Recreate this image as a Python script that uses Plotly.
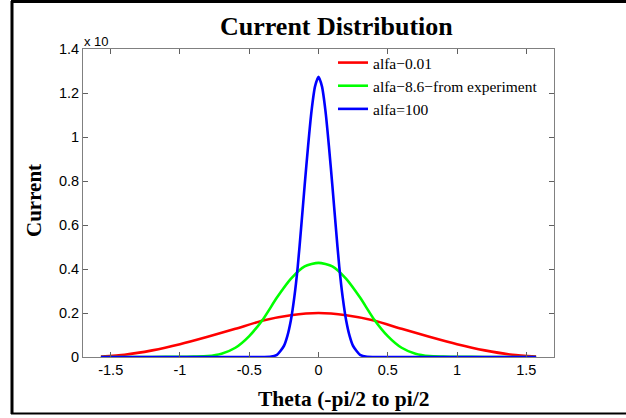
import plotly.graph_objects as go

# Angle samples (radians) and current readings for each alfa value
red_x = [-1.5708, -1.4, -1.2, -1.0, -0.8, -0.6, -0.4, -0.2, 0.0,
         0.2, 0.4, 0.6, 0.8, 1.0, 1.2, 1.4, 1.5708]
red_y = [0.002, 0.010, 0.030, 0.058, 0.092, 0.128, 0.166, 0.190, 0.200,
         0.190, 0.166, 0.128, 0.092, 0.058, 0.030, 0.010, 0.002]

green_x = [-1.5708, -1.2, -1.0, -0.9, -0.8, -0.7, -0.6, -0.5, -0.4, -0.3, -0.2, -0.1, 0.0,
           0.1, 0.2, 0.3, 0.4, 0.5, 0.6, 0.7, 0.8, 0.9, 1.0, 1.2, 1.5708]
green_y = [0.0, 0.0, 0.001, 0.002, 0.004, 0.015, 0.042, 0.095, 0.172, 0.270, 0.355, 0.412, 0.428,
           0.412, 0.355, 0.270, 0.172, 0.095, 0.042, 0.015, 0.004, 0.002, 0.001, 0.0, 0.0]

blue_x = [-1.5708, -0.5, -0.4, -0.35, -0.3, -0.25, -0.225, -0.2, -0.175, -0.15, -0.125, -0.1,
          -0.075, -0.05, -0.025, 0.0, 0.025, 0.05, 0.075, 0.1, 0.125, 0.15, 0.175, 0.2,
          0.225, 0.25, 0.3, 0.35, 0.4, 0.5, 1.5708]
blue_y = [0.0, 0.0, 0.0, 0.001, 0.010, 0.050, 0.095, 0.165, 0.270, 0.410, 0.590, 0.780,
          0.960, 1.120, 1.230, 1.274, 1.230, 1.120, 0.960, 0.780, 0.590, 0.410, 0.270, 0.165,
          0.095, 0.050, 0.010, 0.001, 0.0, 0.0, 0.0]

series_names = ["alfa\u22120.01", "alfa\u22128.6\u2212from experiment", "alfa=100"]
series_colors = ["#ff0000", "#00ff00", "#0000ff"]

x_ticks = [-1.5, -1, -0.5, 0, 0.5, 1, 1.5]
x_tick_text = ["-1.5", "-1", "-0.5", "0", "0.5", "1", "1.5"]
y_ticks = [0, 0.2, 0.4, 0.6, 0.8, 1.0, 1.2, 1.4]
y_tick_text = ["0", "0.2", "0.4", "0.6", "0.8", "1", "1.2", "1.4"]

W, H = 626, 418
L, R, T, B = 83, 72, 49, 61
SERIF = "Liberation Serif, Times New Roman, serif"
SANS = "Liberation Sans, Arial, sans-serif"


def px_x(px):
    return (px - L) / (W - L - R)


def px_y(py):
    return (H - B - py) / (H - T - B)


fig = go.Figure()
for xs, ys, name, color in zip([red_x, green_x, blue_x], [red_y, green_y, blue_y],
                               series_names, series_colors):
    fig.add_trace(go.Scatter(x=xs, y=ys, mode="lines", name=name,
                             line=dict(color=color, width=2.6, shape="spline", smoothing=0.6)))

axis_common = dict(showgrid=False, zeroline=False, showline=True, linecolor="#808080",
                   linewidth=1, mirror="ticks", ticks="inside", ticklen=5, tickcolor="#606060",
                   tickfont=dict(family=SANS, size=14.5, color="black"))

fig.update_xaxes(range=[-1.7, 1.7], tickvals=x_ticks, ticktext=x_tick_text, **axis_common)
fig.update_yaxes(range=[0, 1.4], tickvals=y_ticks, ticktext=y_tick_text, **axis_common)

fig.update_layout(
    width=W, height=H,
    margin=dict(l=L, r=R, t=T, b=B),
    paper_bgcolor="white", plot_bgcolor="white",
    showlegend=True,
    legend=dict(x=px_x(333), y=px_y(46), xanchor="left", yanchor="top",
                bgcolor="rgba(255,255,255,0)", borderwidth=0,
                font=dict(family=SERIF, size=15.5, color="black"),
                tracegroupgap=0, itemwidth=30),
    shapes=[
        # outer frame (left, top, bottom)
        dict(type="line", xref="paper", yref="paper", x0=px_x(12), x1=px_x(12),
             y0=px_y(1), y1=px_y(414), line=dict(color="black", width=3), layer="above"),
        dict(type="line", xref="paper", yref="paper", x0=px_x(11), x1=px_x(W + 5),
             y0=px_y(1.5), y1=px_y(1.5), line=dict(color="black", width=3), layer="above"),
        dict(type="line", xref="paper", yref="paper", x0=px_x(11), x1=px_x(W + 5),
             y0=px_y(413.5), y1=px_y(413.5), line=dict(color="black", width=2), layer="above"),
    ],
    annotations=[
        dict(text="<b>Current Distribution</b>", xref="paper", yref="paper",
             x=px_x(336), y=px_y(26), xanchor="center", yanchor="middle", showarrow=False,
             font=dict(family=SERIF, size=26, color="black")),
        dict(text="<b>Theta (-pi/2 to pi/2</b>", xref="paper", yref="paper",
             x=px_x(343), y=px_y(399), xanchor="center", yanchor="middle", showarrow=False,
             font=dict(family=SERIF, size=21.5, color="black")),
        dict(text="<b>Current</b>", xref="paper", yref="paper", textangle=-90,
             x=px_x(34), y=px_y(201), xanchor="center", yanchor="middle", showarrow=False,
             font=dict(family=SERIF, size=21, color="black")),
        dict(text="x 10", xref="paper", yref="paper",
             x=px_x(82), y=px_y(51), xanchor="left", yanchor="bottom", showarrow=False,
             font=dict(family=SANS, size=13, color="black")),
    ],
)

fig.write_html("out.html")
